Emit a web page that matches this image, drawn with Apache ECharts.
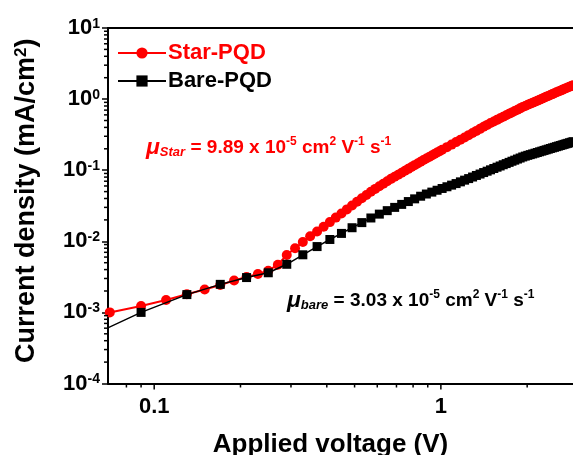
<!DOCTYPE html>
<html>
<head>
<meta charset="utf-8">
<style>
html,body{margin:0;padding:0;background:#fff;}
#c{width:573px;height:455px;}
</style>
<script src="https://cdn.jsdelivr.net/npm/echarts@6/dist/echarts.min.js"></script>
</head>
<body>
<div id="c"></div>
<script>
// ---- data ----
const starV = [0.07,0.09,0.11,0.13,0.15,0.17,0.19,0.21,0.23,0.25,0.27,0.29,0.31,0.33,0.35,0.37,0.39,0.41,0.43,0.45,0.47,0.49,0.51,0.53,0.55,0.57,0.59,0.61,0.63,0.65,0.67,0.69,0.71,0.73,0.75,0.77,0.79,0.81,0.83,0.85,0.87,0.89,0.91,0.93,0.95,0.97,0.99,1.01,
1.05,1.09,1.13,1.17,1.21,1.25,1.29,1.33,1.37,1.41,1.45,1.49,1.53,1.57,1.61,1.65,1.69,1.73,1.77,1.81,1.85,1.89,1.93,1.97,2.01,2.05,2.09,2.13,2.17,2.21,2.25,2.29,2.33,2.37,2.41,2.45,2.49,2.53,2.57,2.61,2.65,2.69,2.73,2.77,2.81,2.85,2.89,2.93,2.97];
const starJ = [1.00e-3,1.23e-3,1.49e-3,1.80e-3,2.10e-3,2.43e-3,2.81e-3,3.15e-3,3.47e-3,3.86e-3,4.69e-3,6.41e-3,7.97e-3,9.77e-3,1.175e-2,1.377e-2,1.603e-2,1.862e-2,2.153e-2,2.466e-2,2.812e-2,3.192e-2,3.606e-2,4.027e-2,4.477e-2,4.966e-2,5.458e-2,5.943e-2,6.457e-2,6.998e-2,7.551e-2,8.091e-2,8.650e-2,9.226e-2,9.840e-2,0.1045,0.1109,0.1178,0.1245,0.1315,0.1390,0.1462,0.1536,0.1611,0.1690,0.1770,0.1849,0.1936,
0.2110,0.2291,0.2483,0.2685,0.2891,0.3112,0.3336,0.3573,0.3816,0.4074,0.4335,0.4603,0.4853,0.5108,0.5370,0.5649,0.5916,0.6209,0.6501,0.6792,0.7096,0.7413,0.7727,0.8017,0.8318,0.8610,0.8892,0.9204,0.9506,0.9817,1.012,1.045,1.076,1.109,1.143,1.175,1.211,1.245,1.279,1.313,1.349,1.384,1.422,1.459,1.496,1.531,1.570,1.607,1.648];

const bareV = [0.05,0.09,0.13,0.17,0.21,0.25,0.29,0.33,0.37,0.41,0.45,0.49,0.53,0.57,0.61,0.65,0.69,0.73,0.77,0.81,0.85,0.89,0.93,0.97,1.01,1.05,1.09,1.13,1.17,1.21,1.25,1.29,1.33,1.37,1.41,1.45,1.49,1.53,1.57,1.61,1.65,1.69,1.73,1.77,1.81,1.85,1.89,1.93,1.97,2.01,2.05,2.09,2.13,2.17,2.21,2.25,2.29,2.33,2.37,2.41,2.45,2.49,2.53,2.57,2.61,2.65,2.69,2.73,2.77,2.81,2.85,2.89,2.93,2.97];
const bareJ = [3.33e-4,1.00e-3,1.78e-3,2.48e-3,3.09e-3,3.61e-3,4.75e-3,6.46e-3,8.43e-3,1.061e-2,1.291e-2,1.552e-2,1.832e-2,2.128e-2,2.411e-2,2.698e-2,2.999e-2,3.304e-2,3.622e-2,3.954e-2,4.305e-2,4.624e-2,4.920e-2,5.224e-2,5.534e-2,5.848e-2,6.166e-2,6.486e-2,6.855e-2,7.244e-2,7.621e-2,8.017e-2,8.433e-2,8.831e-2,9.268e-2,9.683e-2,0.1012,0.1057,0.1102,0.1146,0.1194,0.1239,0.1288,0.1337,0.1384,0.1435,0.1483,0.1535,0.1578,0.1618,0.1656,0.1694,0.1734,0.1774,0.1815,0.1854,0.1897,0.1936,0.1977,0.2018,0.2061,0.2099,0.2143,0.2183,0.2223,0.2265,0.2307,0.2350,0.2388,0.2432,0.2472,0.2518,0.2559,0.2600];

const seriesNames = ['Star-PQD', 'Bare-PQD'];
const xRange = [0.069, 2.89];
const yRange = [1e-4, 10];
const xMajorTicks = [0.1, 1];
const xTickLabels = ['0.1', '1'];
const xMinorTicks = [0.08,0.09,0.2,0.3,0.4,0.5,0.6,0.7,0.8,0.9,2];
const yMinorTicks = [];
[1e-4,1e-3,1e-2,1e-1,1].forEach(function(d){ for (let k=2;k<=9;k++) yMinorTicks.push(d*k); });

// ---- chart ----
const FONT = '"Liberation Sans", Arial, sans-serif';
const chart = echarts.init(document.getElementById('c'), null, {renderer:'canvas'});

function isDecade(v){ const e = Math.log10(v); return Math.abs(e - Math.round(e)) < 1e-6; }

function annot(color, sub, val){
  return {
    text: '{mu|μ}{sub|' + sub + '}{t| = ' + val + ' x 10}{sup|-5}{t| cm}{sup|2}{t| V}{sup|-1}{t| s}{sup|-1}',
    rich: {
      mu: {fontFamily: FONT, fontWeight: 'bold', fontStyle: 'italic', fontSize: 23, fill: color},
      sub: {fontFamily: FONT, fontWeight: 'bold', fontStyle: 'italic', fontSize: 13, fill: color, verticalAlign: 'bottom'},
      t: {fontFamily: FONT, fontWeight: 'bold', fontSize: 19, fill: color},
      sup: {fontFamily: FONT, fontWeight: 'bold', fontSize: 12, fill: color, verticalAlign: 'top'}
    }
  };
}

const option = {
  animation: false,
  backgroundColor: '#fff',
  grid: {left: 108, right: 0, top: 28, bottom: 71.5, containLabel: false, outerBoundsMode: 'none'},
  legend: {
    left: 112, top: 37, orient: 'vertical',
    itemWidth: 48, itemHeight: 14, itemGap: 6,
    data: [
      {name: seriesNames[0], textStyle: {color: '#ff0000'}},
      {name: seriesNames[1], textStyle: {color: '#000000'}}
    ],
    textStyle: {fontFamily: FONT, fontWeight: 'bold', fontSize: 22, padding: [0,0,0,-3]}
  },
  xAxis: [{
    type: 'log', min: xRange[0], max: xRange[1],
    axisLine: {show: true, onZero: false, lineStyle: {color: '#000', width: 2}},
    axisTick: {show: false},
    splitLine: {show: false},
    axisLabel: {show: false},
    name: 'Applied voltage (V)', nameLocation: 'middle', nameGap: 48,
    nameTextStyle: {color: '#000', fontFamily: FONT, fontWeight: 'bold', fontSize: 26, padding: [0, 20, 0, 0]}
  }, {
    type: 'log', min: xRange[0], max: xRange[1], position: 'top',
    axisLine: {show: true, lineStyle: {color: '#000', width: 2}},
    axisTick: {show: false}, axisLabel: {show: false}, splitLine: {show: false}
  }],
  yAxis: {
    type: 'log', min: yRange[0], max: yRange[1], interval: 1,
    axisLine: {show: true, onZero: false, lineStyle: {color: '#000', width: 2}},
    axisTick: {show: true, length: 6, inside: false, lineStyle: {color: '#000', width: 1.5}},
    splitLine: {show: false},
    axisLabel: {
      margin: 8, color: '#000',
      formatter: function(v){ if (!isDecade(v)) return ''; const e = Math.round(Math.log10(v)); return '{b|10}{s|' + e + '}'; },
      rich: {
        b: {fontFamily: FONT, fontWeight: 'bold', fontSize: 22, color: '#000'},
        s: {fontFamily: FONT, fontWeight: 'bold', fontSize: 14, color: '#000', verticalAlign: 'top'}
      }
    },
    name: '{t|Current density (mA/cm}{s|2}{t|)}', nameLocation: 'middle', nameGap: 68,
    nameTextStyle: {
      padding: [0, 0, 0, 10],
      rich: {
        t: {fontFamily: FONT, fontWeight: 'bold', fontSize: 27, color: '#000'},
        s: {fontFamily: FONT, fontWeight: 'bold', fontSize: 17, color: '#000', verticalAlign: 'top'}
      }
    }
  },
  series: [
    {
      name: seriesNames[0], type: 'line', z: 3,
      data: starV.map(function(v,i){ return [v, starJ[i]]; }),
      symbol: 'circle', symbolSize: 10,
      itemStyle: {color: '#ff0000'},
      lineStyle: {color: '#ff0000', width: 2}
    },
    {
      name: seriesNames[1], type: 'line', z: 4,
      data: bareV.map(function(v,i){ return [v, bareJ[i]]; }),
      symbol: 'rect', symbolSize: 9,
      itemStyle: {color: '#000000'},
      lineStyle: {color: '#000000', width: 1.5}
    },
    {
      type: 'custom', name: 'xmajor', clip: false, silent: true, z: 5,
      data: xMajorTicks.map(function(v, i){ return [v, yRange[0], i]; }),
      renderItem: function(params, api){
        const p = api.coord([api.value(0), api.value(1)]);
        return {type: 'group', children: [
          {type: 'line', shape: {x1: p[0], y1: p[1], x2: p[0], y2: p[1] + 6}, style: {stroke: '#000', lineWidth: 1.5}},
          {type: 'text', x: p[0], y: p[1] + 12, style: {text: xTickLabels[api.value(2)], textAlign: 'center', textVerticalAlign: 'top', fontFamily: FONT, fontWeight: 'bold', fontSize: 22, fill: '#000'}}
        ]};
      }
    },
    {
      type: 'custom', name: 'xminor', clip: false, silent: true, z: 5,
      data: xMinorTicks.map(function(v){ return [v, yRange[0]]; }),
      renderItem: function(params, api){
        const p = api.coord([api.value(0), api.value(1)]);
        return {type: 'line', shape: {x1: p[0], y1: p[1], x2: p[0], y2: p[1] + 4}, style: {stroke: '#000', lineWidth: 1.5}};
      }
    },
    {
      type: 'custom', name: 'yminor', clip: false, silent: true, z: 5,
      data: yMinorTicks.map(function(v){ return [xRange[0], v]; }),
      renderItem: function(params, api){
        const p = api.coord([api.value(0), api.value(1)]);
        return {type: 'line', shape: {x1: p[0], y1: p[1], x2: p[0] - 4, y2: p[1]}, style: {stroke: '#000', lineWidth: 1.5}};
      }
    }
  ],
  graphic: [
    {type: 'text', left: 146, top: 136, z: 10, style: annot('#ff0000', 'Star', '9.89')},
    {type: 'text', left: 287, top: 289, z: 10, style: annot('#000000', 'bare', '3.03')}
  ]
};
chart.setOption(option);
</script>
</body>
</html>
